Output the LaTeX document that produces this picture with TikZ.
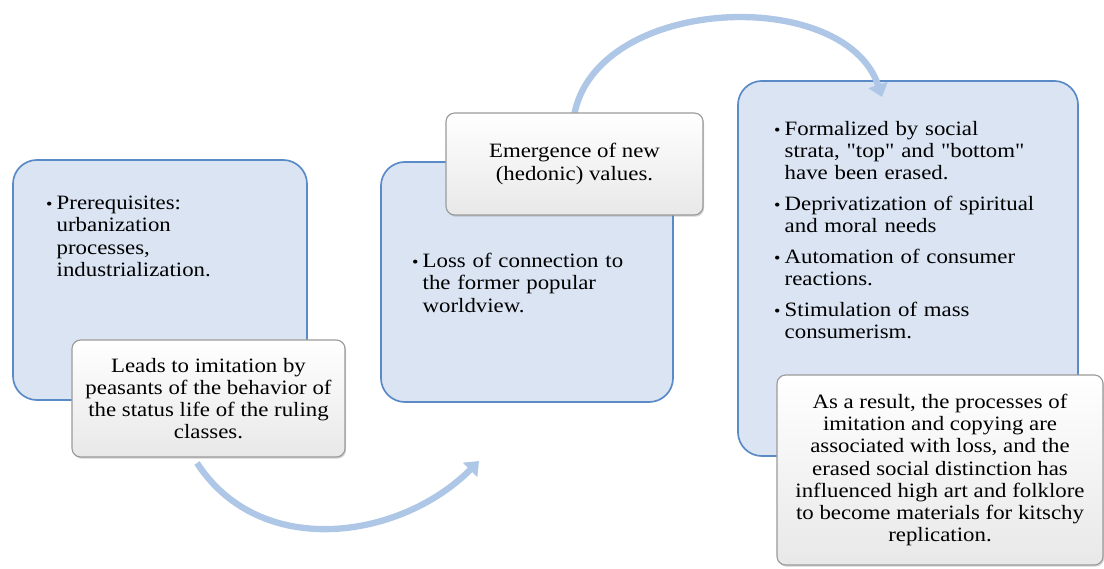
\documentclass[tikz,border=0pt]{standalone}
\usepackage{fontspec}
\setmainfont{Liberation Serif}[FakeStretch=1.12,Ligatures=TeXOff]
\usetikzlibrary{arrows.meta,positioning,shadows}

\definecolor{boxfill}{HTML}{DAE4F3}
\definecolor{boxline}{HTML}{5A8BC6}
\definecolor{arrowfill}{HTML}{AFC7E6}
\definecolor{whiteline}{HTML}{9A9A9A}

\tikzset{
  bluebox/.style={draw=boxline,line width=1.2pt,fill=boxfill,rounded corners=0.6cm,inner sep=0pt},
  whitebox/.style={draw=whiteline,line width=0.8pt,top color=white,bottom color=black!9,
    rounded corners=0.22cm,align=center,inner sep=0pt,
    drop shadow={shadow xshift=0.8pt,shadow yshift=-1.2pt,opacity=0.35}},
  txt/.style={inner sep=0pt,text width=#1,align=left},
  flowarrow/.style={draw=arrowfill,line width=4.5pt,-{Triangle[width=14pt,length=9pt]}}
}
\newcommand{\fsize}{\fontsize{14.5}{15.8}\selectfont}
\newcommand{\bpoint}[1]{\par\hangindent=0.75em\hangafter=1\noindent
  \hbox to 0.75em{\hfil\scalebox{0.8}{\textbullet}\hskip 3pt}#1\par\vspace{6pt}}

\begin{document}
\begin{tikzpicture}[x=0.025cm,y=-0.025cm,font=\fsize]
\useasboundingbox (0,0) rectangle (1104,569);

% big blue boxes
\node[bluebox,minimum width=7.35cm,minimum height=6cm] (b1) at (160,280) {};
\node[bluebox,minimum width=7.3cm,minimum height=6cm] (b2) at (527,282) {};
\node[bluebox,minimum width=8.5cm,minimum height=9.375cm] (b3) at (908,268.5) {};

\node[txt=6cm] (t1) [below right=0.7cm and 0.725cm of b1.north west]
{\bpoint{Prerequisites:\newline urbanization\newline processes,\newline industrialization.}};
\node[txt=6.5cm] (t2) [below right=2.1cm and 0.675cm of b2.north west]
{\bpoint{Loss of connection to\newline the former popular\newline worldview.}};
\node[txt=7.5cm] (t3) [below right=0.82cm and 0.8cm of b3.north west]
{\bpoint{Formalized by social\newline strata, "top" and "bottom"\newline have been erased.}
 \bpoint{Deprivatization of spiritual\newline and moral needs}
 \bpoint{Automation of consumer\newline reactions.}
 \bpoint{Stimulation of mass\newline consumerism.}};

% curved arrows
\coordinate (a1) at (197,463);
\coordinate (a2) at (479,461);
\coordinate (a3) at (574,116);
\coordinate (a4) at (882,97);
\draw[flowarrow] (a1) .. controls (260,560) and (400,540) .. (a2);
\draw[flowarrow] (a3) .. controls (595,-5) and (845,-15) .. (a4);

% white boxes
\node[whitebox,minimum width=6.825cm,minimum height=2.925cm] (w1) at (208.5,398.5)
{Leads to imitation by\\ peasants of the behavior of\\ the status life of the ruling\\ classes.};
\node[whitebox,minimum width=6.425cm,minimum height=2.55cm] (w2) at (574.5,164)
{Emergence of new\\ (hedonic) values.};
\node[whitebox,minimum width=8.15cm,minimum height=4.75cm] (w3) at (940,470)
{As a result, the processes of\\ imitation and copying are\\ associated with loss, and the\\ erased social distinction has\\ influenced high art and folklore\\ to become materials for kitschy\\ replication.};
\end{tikzpicture}
\end{document}
